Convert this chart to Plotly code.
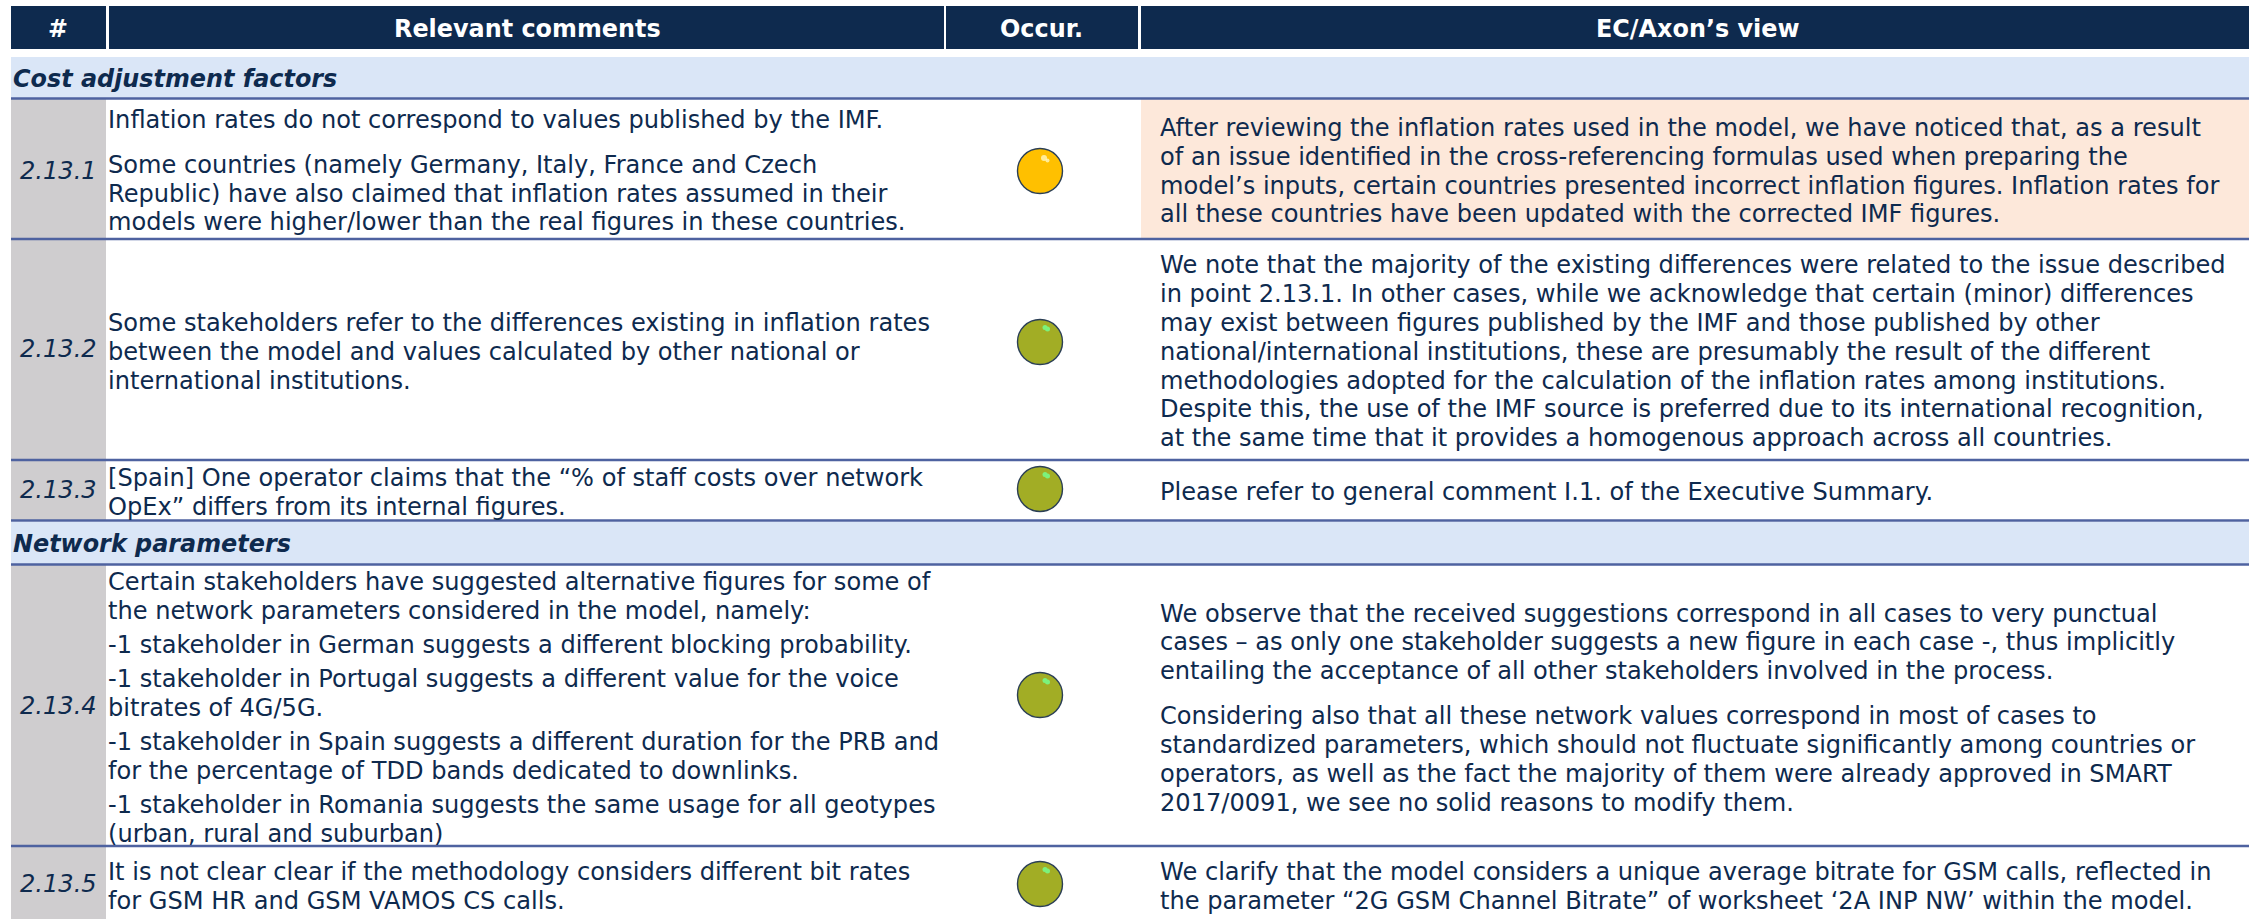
import plotly.graph_objects as go

W, H = 2255, 919
FONT = "DejaVu Sans"
SIZE = 24.1
BOLD_SIZE = 23.9
NAVY = "#0E2A4E"
BAND = "#DAE6F7"
RULE = "#4E62A0"
GREY = "#CFCDCF"
PEACH = "#FDE8DA"
AMBER = "#FFC000"
OLIVE = "#A2AD25"

HEADERS = ["#", "Relevant comments", "Occur.", "EC/Axon’s view"]
SECTIONS = ["Cost adjustment factors", "Network parameters"]
ROW_IDS = ["2.13.1", "2.13.2", "2.13.3", "2.13.4", "2.13.5"]
OCCURRENCE = [AMBER, OLIVE, OLIVE, OLIVE, OLIVE]

COMMENTS = [
    ["Inflation rates do not correspond to values published by the IMF.",
     "Some countries (namely Germany, Italy, France and Czech",
     "Republic) have also claimed that inflation rates assumed in their",
     "models were higher/lower than the real figures in these countries."],
    ["Some stakeholders refer to the differences existing in inflation rates",
     "between the model and values calculated by other national or",
     "international institutions."],
    ["[Spain] One operator claims that the “% of staff costs over network",
     "OpEx” differs from its internal figures."],
    ["Certain stakeholders have suggested alternative figures for some of",
     "the network parameters considered in the model, namely:",
     "-1 stakeholder in German suggests a different blocking probability.",
     "-1 stakeholder in Portugal suggests a different value for the voice",
     "bitrates of 4G/5G.",
     "-1 stakeholder in Spain suggests a different duration for the PRB and",
     "for the percentage of TDD bands dedicated to downlinks.",
     "-1 stakeholder in Romania suggests the same usage for all geotypes",
     "(urban, rural and suburban)"],
    ["It is not clear clear if the methodology considers different bit rates",
     "for GSM HR and GSM VAMOS CS calls."],
]
VIEWS = [
    ["After reviewing the inflation rates used in the model, we have noticed that, as a result",
     "of an issue identified in the cross-referencing formulas used when preparing the",
     "model’s inputs, certain countries presented incorrect inflation figures. Inflation rates for",
     "all these countries have been updated with the corrected IMF figures."],
    ["We note that the majority of the existing differences were related to the issue described",
     "in point 2.13.1. In other cases, while we acknowledge that certain (minor) differences",
     "may exist between figures published by the IMF and those published by other",
     "national/international institutions, these are presumably the result of the different",
     "methodologies adopted for the calculation of the inflation rates among institutions.",
     "Despite this, the use of the IMF source is preferred due to its international recognition,",
     "at the same time that it provides a homogenous approach across all countries."],
    ["Please refer to general comment I.1. of the Executive Summary."],
    ["We observe that the received suggestions correspond in all cases to very punctual",
     "cases – as only one stakeholder suggests a new figure in each case -, thus implicitly",
     "entailing the acceptance of all other stakeholders involved in the process.",
     "Considering also that all these network values correspond in most of cases to",
     "standardized parameters, which should not fluctuate significantly among countries or",
     "operators, as well as the fact the majority of them were already approved in SMART",
     "2017/0091, we see no solid reasons to modify them."],
    ["We clarify that the model considers a unique average bitrate for GSM calls, reflected in",
     "the parameter “2G GSM Channel Bitrate” of worksheet ‘2A INP NW’ within the model."],
]

# Layout geometry (page pixels)
HEAD_SPANS = [(11, 106), (109, 944), (946, 1138), (1141, 2249)]
HEAD_Y = (6, 49)
HEAD_TEXT_X = [58, 527, 1041, 1698]
LEFT, RIGHT = 11, 2249
SECTION_Y = [(57, 98), (522, 564)]
ROW_Y = [(99, 239), (239, 460), (460, 520), (565, 846), (846, 919)]
RULES_Y = [98.5, 239, 460, 520.5, 564.5, 846]
COMMENT_X, VIEW_X = 106.5, 1159
ID_Y = [171, 349, 490, 706, 884]
TEXT_DY = 1
COMMENT_LINES_Y = [
    [119, 164, 193, 221], [322, 351, 380], [477, 506],
    [581, 610, 644, 678, 707, 741, 770, 804, 833], [871, 900]]
VIEW_LINES_Y = [
    [127, 156, 185, 213], [264, 293, 322, 351, 380, 408, 437], [491],
    [613, 641, 670, 715, 744, 773, 802], [871, 900]]
OCC_X = 1040
OCC_Y = [171, 342, 489, 695, 884]

shapes, notes = [], []


def rect(x0, y0, x1, y1, color):
    shapes.append(dict(type="rect", xref="x", yref="y", x0=x0, x1=x1, y0=y0, y1=y1,
                       fillcolor=color, line_width=0, layer="below"))


def text(x, y, s, color=NAVY, size=SIZE, anchor="left", bold=False, italic=False):
    if bold:
        s = f"<b>{s}</b>"
    if italic:
        s = f"<i>{s}</i>"
    notes.append(dict(x=x, y=y, xref="x", yref="y", text=s, showarrow=False, xanchor=anchor,
                      yanchor="middle", align=anchor, borderpad=0,
                      font=dict(family=FONT, size=size, color=color)))


for (x0, x1), label, tx in zip(HEAD_SPANS, HEADERS, HEAD_TEXT_X):
    rect(x0, HEAD_Y[0], x1, HEAD_Y[1], NAVY)
    text(tx, sum(HEAD_Y) / 2 + 1.5, label, color="white", size=BOLD_SIZE, anchor="center", bold=True)

for (y0, y1), label in zip(SECTION_Y, SECTIONS):
    rect(LEFT, y0, RIGHT, y1, BAND)
    text(LEFT + 0.5, (y0 + y1) / 2 + 1, label, size=BOLD_SIZE, bold=True, italic=True)

rect(1141, ROW_Y[0][0], RIGHT, ROW_Y[0][1], PEACH)

for (y0, y1), rid, iy, cl, cy, vl, vy in zip(ROW_Y, ROW_IDS, ID_Y, COMMENTS, COMMENT_LINES_Y, VIEWS, VIEW_LINES_Y):
    rect(LEFT, y0, 106, y1, GREY)
    text(58, iy, rid, anchor="center", italic=True)
    for s, y in zip(cl, cy):
        text(COMMENT_X, y + TEXT_DY, s)
    for s, y in zip(vl, vy):
        text(VIEW_X, y + TEXT_DY, s)

for y in RULES_Y:
    shapes.append(dict(type="line", xref="x", yref="y", x0=LEFT, x1=RIGHT, y0=y, y1=y,
                       line=dict(color=RULE, width=2.6), layer="below"))

fig = go.Figure()
fig.add_trace(go.Scatter(
    x=[OCC_X] * len(OCC_Y), y=OCC_Y, mode="markers", hoverinfo="skip",
    marker=dict(size=45, color=OCCURRENCE, line=dict(color="#2B3F55", width=1.4))))
# Glossy highlight on each occurrence ball
fig.add_trace(go.Scatter(
    x=[OCC_X + 4, OCC_X + 7.5], y=[OCC_Y[0] - 13, OCC_Y[0] - 10.5], mode="markers", hoverinfo="skip",
    marker=dict(size=[6, 4], color="#FFFFD8", line_width=0)))
fig.add_trace(go.Scatter(
    x=[v for _ in OCC_Y[1:] for v in (OCC_X + 5, OCC_X + 7.5)],
    y=[v for y in OCC_Y[1:] for v in (y - 14.5, y - 13)], mode="markers", hoverinfo="skip",
    marker=dict(size=5, color="#7CF27C", line_width=0)))

fig.update_layout(
    width=W, height=H, autosize=False, showlegend=False,
    margin=dict(l=0, r=0, t=0, b=0, pad=0),
    paper_bgcolor="white", plot_bgcolor="white",
    xaxis=dict(range=[0, W], visible=False, fixedrange=True),
    yaxis=dict(range=[H, 0], visible=False, fixedrange=True),
    shapes=shapes, annotations=notes,
)
fig.write_html("out.html", config={"displayModeBar": False},
               post_script="document.body.style.margin='0';document.body.style.overflow='hidden';")
